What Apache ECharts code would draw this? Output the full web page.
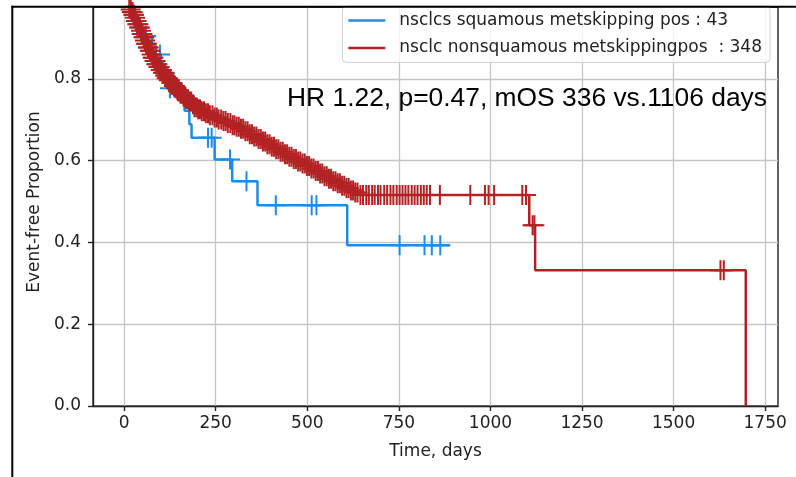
<!DOCTYPE html>
<html><head><meta charset="utf-8">
<script src="https://cdn.jsdelivr.net/npm/echarts@6/dist/echarts.min.js"></script>
<style>html,body{margin:0;padding:0;background:#fff}#c{width:796px;height:477px}</style>
</head><body><div id="c"></div>
<script>
// ---- data ----
const xTicks = [0, 250, 500, 750, 1000, 1250, 1500, 1750];
const yTicks = [0, 0.2, 0.4, 0.6, 0.8];
const seriesNames = ['nsclcs squamous metskipping pos : 43', 'nsclc nonsquamous metskippingpos  : 348'];
const annotation = 'HR 1.22, p=0.47, mOS 336 vs.1106 days';

const blueTimes = [0, 8, 18, 27, 36, 76, 86, 100, 108, 118, 150, 165, 178, 184, 247, 295, 364, 609, 888];
const blueSurv  = [1.0, 0.977, 0.953, 0.930, 0.905, 0.882, 0.860, 0.837, 0.814, 0.777, 0.750, 0.722, 0.689, 0.656, 0.603, 0.550, 0.491, 0.393, 0.393];
const blueCensor = [60, 98, 112, 125, 142, 229, 239, 289, 334, 414, 512, 525, 752, 820, 840, 863];

const redTimes = [0, 4, 8, 11, 14, 17, 20, 24, 28, 32, 36, 40, 44, 48, 52, 56, 60, 64, 68, 73, 78, 83, 88, 93, 98, 104, 110, 116, 122, 128, 134, 140, 147, 154, 161, 168, 176, 184, 192, 200, 210, 220, 232, 244, 256, 268, 280, 292, 304, 316, 328, 340, 352, 364, 376, 388, 400, 412, 424, 436, 448, 460, 472, 484, 496, 508, 520, 532, 544, 556, 568, 580, 592, 604, 616, 628, 640, 1106, 1122, 1697];
const redSurv  = [1.0, 0.994, 0.988, 0.982, 0.976, 0.970, 0.964, 0.957, 0.950, 0.942, 0.934, 0.926, 0.918, 0.910, 0.902, 0.894, 0.886, 0.877, 0.869, 0.860, 0.852, 0.844, 0.836, 0.829, 0.822, 0.815, 0.808, 0.802, 0.797, 0.790, 0.783, 0.777, 0.770, 0.764, 0.757, 0.751, 0.745, 0.738, 0.731, 0.726, 0.721, 0.716, 0.711, 0.706, 0.701, 0.697, 0.692, 0.687, 0.683, 0.678, 0.672, 0.665, 0.659, 0.653, 0.647, 0.640, 0.634, 0.628, 0.622, 0.616, 0.610, 0.604, 0.598, 0.593, 0.587, 0.581, 0.575, 0.569, 0.562, 0.556, 0.550, 0.545, 0.539, 0.533, 0.527, 0.522, 0.516, 0.442, 0.332, 0.0];
const redCensor = [2, 5, 7, 9, 12, 14, 16, 18, 21, 23, 25, 27, 30, 32, 34, 36, 39, 41, 43, 46, 48, 50, 53, 55, 57, 60, 62, 65, 67, 70, 72, 75, 78, 80, 83, 86, 88, 91, 94, 97, 100, 103, 106, 109, 112, 116, 119, 122, 125, 129, 132, 136, 139, 143, 147, 150, 154, 158, 162, 166, 170, 174, 179, 183, 188, 192, 197, 202, 207, 212, 218, 223, 229, 234, 241, 247, 253, 258, 265, 271, 277, 283, 290, 296, 301, 307, 313, 319, 325, 331, 337, 343, 349, 355, 361, 367, 373, 379, 385, 391, 397, 403, 409, 415, 421, 427, 433, 439, 445, 451, 457, 463, 469, 475, 481, 487, 493, 499, 505, 511, 517, 523, 529, 535, 541, 547, 553, 559, 565, 571, 577, 583, 589, 595, 601, 607, 613, 619, 625, 631, 637, 645, 652, 661, 668, 677, 684, 693, 700, 710, 718, 727, 735, 744, 752, 760, 768, 776, 785, 793, 801, 810, 818, 826, 835, 862, 945, 985, 995, 1010, 1087, 1097, 1115, 1120, 1628, 1637];

// ---- helpers ----
function stepPairs(times, surv) { return times.map((t, i) => [t, surv[i]]); }
function survAt(times, surv, t) {
  let v = surv[0];
  for (let i = 0; i < times.length; i++) { if (times[i] <= t) v = surv[i]; else break; }
  return v;
}
function censorPairs(times, surv, cens) { return cens.map(t => [t, survAt(times, surv, t)]); }

const BLUE = '#1e8ce6', RED = '#b22222';
const FONT = 'DejaVu Sans';
const FS = 17;
const plus = 'path://M10 0L10 20M0 10L20 10';

const chart = echarts.init(document.getElementById('c'), null, { renderer: 'canvas' });
chart.setOption({
  animation: false,
  backgroundColor: '#fff',
  grid: { left: 93, right: 18, top: 7, bottom: 71, show: true, borderColor: '#222', borderWidth: 1.4, backgroundColor: 'transparent' },
  xAxis: {
    type: 'value', min: -85, max: 1785,
    axisLine: { show: true, onZero: false, lineStyle: { color: '#222', width: 1.4 } },
    axisTick: { show: true, customValues: xTicks, length: 5, lineStyle: { color: '#222', width: 1.4 } },
    axisLabel: { customValues: xTicks, fontSize: FS, color: '#222', margin: 9, fontFamily: FONT, formatter: v => String(v) },
    splitLine: { show: true, lineStyle: { color: '#c6c6c6', width: 1.3 } },
    name: 'Time, days', nameLocation: 'middle', nameGap: 37,
    nameTextStyle: { fontSize: FS, color: '#222', fontFamily: FONT }
  },
  yAxis: {
    type: 'value', min: 0, max: 0.976,
    axisLine: { show: true, onZero: false, lineStyle: { color: '#222', width: 1.4 } },
    axisTick: { show: true, customValues: yTicks, length: 5, lineStyle: { color: '#222', width: 1.4 } },
    axisLabel: { customValues: yTicks, fontSize: FS, color: '#222', margin: 12, fontFamily: FONT, formatter: v => v.toFixed(1) },
    splitLine: { show: true, lineStyle: { color: '#c6c6c6', width: 1.3 } },
    name: 'Event-free Proportion', nameLocation: 'middle', nameGap: 47,
    nameTextStyle: { fontSize: FS, color: '#222', fontFamily: FONT, padding: [0, 0, 0, 9] }
  },
  legend: {
    data: seriesNames, orient: 'vertical', right: 26, top: 6,
    icon: 'rect', itemWidth: 37, itemHeight: 2.5, itemGap: 10.4, padding: [6, 8, 6, 6],
    backgroundColor: 'rgba(255,255,255,0.8)', borderColor: '#cfcfcf', borderWidth: 1, borderRadius: 4,
    textStyle: { fontSize: FS, color: '#222', fontFamily: FONT, padding: [0, 0, 0, 9] }
  },
  graphic: [
    { type: 'text', left: 287, top: 86, z: 100, style: { text: annotation, font: '26.4px "Liberation Sans", Arial, sans-serif', fill: '#000' } },
    { type: 'line', z: 100, shape: { x1: 12.3, y1: 5.7, x2: 12.3, y2: 477 }, style: { stroke: '#000', lineWidth: 2 } },
    { type: 'line', z: 100, shape: { x1: 11.3, y1: 6.7, x2: 796, y2: 6.7 }, style: { stroke: '#000', lineWidth: 2 } }
  ],
  series: [
    { name: seriesNames[0], type: 'line', step: 'end', data: stepPairs(blueTimes, blueSurv), symbol: 'none', showSymbol: false,
      lineStyle: { color: BLUE, width: 2.5 }, itemStyle: { color: BLUE }, z: 2 },
    { type: 'scatter', data: censorPairs(blueTimes, blueSurv, blueCensor), symbol: plus, symbolSize: 20,
      itemStyle: { color: 'none', borderColor: BLUE, borderWidth: 2, opacity: 1 }, z: 2 },
    { name: seriesNames[1], type: 'line', step: 'end', data: stepPairs(redTimes, redSurv), symbol: 'none', showSymbol: false,
      lineStyle: { color: RED, width: 2.5 }, itemStyle: { color: RED }, z: 3 },
    { type: 'scatter', data: censorPairs(redTimes, redSurv, redCensor), symbol: plus, symbolSize: 20,
      itemStyle: { color: 'none', borderColor: RED, borderWidth: 2, opacity: 1 }, z: 3 }
  ]
});
</script></body></html>
